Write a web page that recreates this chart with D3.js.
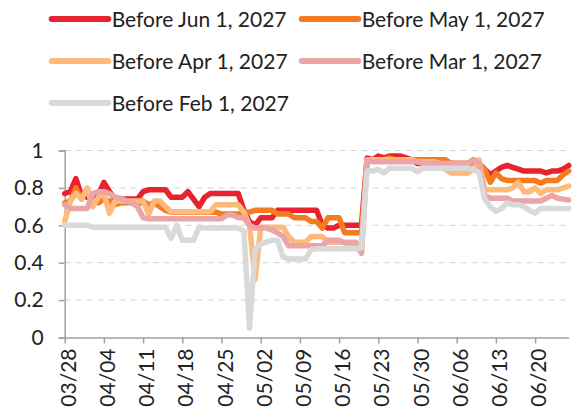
<!DOCTYPE html>
<html>
<head>
<meta charset="utf-8">
<script src="https://cdn.jsdelivr.net/npm/d3@7"></script>
<style>
  body { margin: 0; background: #fff; }
  svg { display: block; }
  text { font-family: Lato, sans-serif; fill: #222; }
</style>
</head>
<body>
<script>
'use strict';

var seriesNames = ['Before Jun 1, 2027', 'Before May 1, 2027', 'Before Apr 1, 2027', 'Before Mar 1, 2027', 'Before Feb 1, 2027'];
var seriesColors = ['#e8222f', '#f47b20', '#fdba7b', '#eca5a6', '#d9d9d9'];

var firstDay = new Date(2027, 2, 28);
var lastDay = new Date(2027, 5, 26);

var beforeJun = [
  0.77, 0.78, 0.85, 0.76, 0.75, 0.75, 0.76,
  0.83, 0.78, 0.74, 0.74, 0.74, 0.74, 0.74,
  0.78, 0.79, 0.79, 0.79, 0.79, 0.75, 0.75,
  0.75, 0.78, 0.74, 0.70, 0.75, 0.77, 0.77,
  0.77, 0.77, 0.77, 0.77, 0.68, 0.62, 0.60,
  0.64, 0.64, 0.64, 0.68, 0.68, 0.68, 0.68,
  0.68, 0.68, 0.68, 0.68, 0.60, 0.585, 0.585,
  0.60, 0.60, 0.60, 0.60, 0.60, 0.96, 0.95,
  0.97, 0.96, 0.97, 0.97, 0.97, 0.96, 0.95,
  0.93, 0.93, 0.93, 0.94, 0.93, 0.93, 0.93,
  0.93, 0.93, 0.93, 0.95, 0.93, 0.90, 0.87,
  0.89, 0.91, 0.92, 0.91, 0.90, 0.89, 0.89,
  0.89, 0.89, 0.88, 0.89, 0.89, 0.90, 0.92
];
var beforeMay = [
  0.72, 0.73, 0.80, 0.74, 0.79, 0.73, 0.72,
  0.74, 0.73, 0.71, 0.72, 0.72, 0.72, 0.71,
  0.73, 0.71, 0.72, 0.70, 0.68, 0.67, 0.67,
  0.67, 0.67, 0.67, 0.67, 0.67, 0.67, 0.67,
  0.66, 0.66, 0.66, 0.66, 0.67, 0.67, 0.68,
  0.68, 0.68, 0.68, 0.66, 0.66, 0.66, 0.64,
  0.64, 0.64, 0.62, 0.62, 0.585, 0.64, 0.64,
  0.64, 0.56, 0.56, 0.56, 0.56, 0.94, 0.95,
  0.95, 0.95, 0.96, 0.95, 0.95, 0.95, 0.95,
  0.95, 0.95, 0.95, 0.95, 0.95, 0.95, 0.93,
  0.93, 0.93, 0.93, 0.93, 0.93, 0.90, 0.83,
  0.88, 0.85, 0.84, 0.84, 0.84, 0.84, 0.84,
  0.84, 0.825, 0.84, 0.84, 0.84, 0.87, 0.89
];
var beforeApr = [
  0.62, 0.73, 0.77, 0.74, 0.80, 0.70, 0.75,
  0.77, 0.665, 0.73, 0.73, 0.73, 0.73, 0.73,
  0.73, 0.66, 0.73, 0.73, 0.70, 0.673, 0.673,
  0.673, 0.673, 0.673, 0.673, 0.673, 0.673, 0.71,
  0.71, 0.71, 0.71, 0.71, 0.67, 0.60, 0.31,
  0.59, 0.59, 0.59, 0.59, 0.59, 0.54, 0.51,
  0.51, 0.51, 0.54, 0.54, 0.54, 0.51, 0.51,
  0.51, 0.51, 0.51, 0.51, 0.47, 0.95, 0.95,
  0.95, 0.95, 0.95, 0.95, 0.95, 0.95, 0.95,
  0.94, 0.94, 0.94, 0.94, 0.93, 0.90, 0.88,
  0.88, 0.88, 0.88, 0.90, 0.95, 0.79, 0.79,
  0.79, 0.79, 0.79, 0.80, 0.83, 0.78, 0.78,
  0.80, 0.77, 0.79, 0.79, 0.79, 0.80, 0.81
];
var beforeMar = [
  0.71, 0.69, 0.69, 0.69, 0.69, 0.77, 0.78,
  0.78, 0.77, 0.75, 0.745, 0.73, 0.72, 0.70,
  0.64, 0.635, 0.635, 0.635, 0.635, 0.635, 0.635,
  0.635, 0.635, 0.635, 0.635, 0.635, 0.635, 0.635,
  0.635, 0.655, 0.655, 0.64, 0.64, 0.60, 0.585,
  0.585, 0.585, 0.575, 0.56, 0.54, 0.49, 0.49,
  0.49, 0.49, 0.49, 0.49, 0.49, 0.52, 0.52,
  0.52, 0.505, 0.505, 0.505, 0.45, 0.95, 0.94,
  0.94, 0.94, 0.94, 0.94, 0.94, 0.94, 0.94,
  0.94, 0.93, 0.93, 0.93, 0.93, 0.93, 0.93,
  0.93, 0.93, 0.93, 0.95, 0.93, 0.76, 0.745,
  0.745, 0.745, 0.745, 0.73, 0.73, 0.73, 0.73,
  0.73, 0.73, 0.745, 0.76, 0.745, 0.74, 0.735
];
var beforeFeb = [
  0.60, 0.60, 0.60, 0.60, 0.60, 0.59, 0.59,
  0.59, 0.59, 0.59, 0.59, 0.59, 0.59, 0.59,
  0.59, 0.59, 0.59, 0.59, 0.59, 0.53, 0.60,
  0.52, 0.52, 0.52, 0.59, 0.585, 0.585, 0.585,
  0.585, 0.585, 0.585, 0.585, 0.57, 0.05, 0.47,
  0.50, 0.51, 0.52, 0.52, 0.43, 0.42, 0.42,
  0.42, 0.42, 0.47, 0.475, 0.475, 0.475, 0.475,
  0.475, 0.475, 0.475, 0.475, 0.48, 0.89, 0.89,
  0.90, 0.88, 0.905, 0.905, 0.905, 0.905, 0.905,
  0.885, 0.905, 0.905, 0.905, 0.905, 0.905, 0.905,
  0.905, 0.905, 0.905, 0.90, 0.88, 0.74, 0.70,
  0.675, 0.69, 0.72, 0.71, 0.71, 0.70, 0.68,
  0.665, 0.69, 0.69, 0.69, 0.69, 0.69, 0.69
];

var yTicks = [0, 0.2, 0.4, 0.6, 0.8, 1];
var xTickLabels = ['03/28', '04/04', '04/11', '04/18', '04/25', '05/02', '05/09', '05/16', '05/23', '05/30', '06/06', '06/13', '06/20'];

var width = 576;
var height = 416;
var plotLeft = 64.7, plotRight = 568.7, plotTop = 150.5, plotBottom = 337.5;
var fontSize = '21px';

var days = d3.timeDay.range(firstDay, d3.timeDay.offset(lastDay, 1));
var allValues = [beforeJun, beforeMay, beforeApr, beforeMar, beforeFeb];

var x = d3.scaleTime().domain([firstDay, lastDay]).range([plotLeft, plotRight]);
var y = d3.scaleLinear().domain([0, 1]).range([plotBottom, plotTop]);

var svg = d3.select('body').append('svg')
  .attr('width', width)
  .attr('height', height);

// dashed grid
svg.append('g')
  .selectAll('line')
  .data(yTicks.filter(function(t) { return t > 0; }))
  .enter().append('line')
  .attr('x1', plotLeft)
  .attr('x2', plotRight - 3)
  .attr('y1', function(d) { return y(d); })
  .attr('y2', function(d) { return y(d); })
  .style('stroke', '#d4d4d4')
  .style('stroke-width', 1)
  .style('stroke-dasharray', '6,5');

var parseTick = d3.timeParse('%Y/%m/%d');
var xTickDates = xTickLabels.map(function(s) { return parseTick('2027/' + s); });

var xAxis = svg.append('g')
  .attr('transform', 'translate(0,' + plotBottom + ')')
  .call(d3.axisBottom(x).tickValues(xTickDates).tickSize(6).tickSizeOuter(0)
    .tickFormat(function(d, i) { return xTickLabels[i]; }));

xAxis.selectAll('text')
  .attr('transform', 'rotate(-90)')
  .attr('x', -11)
  .attr('y', 0)
  .attr('dy', '0.5em')
  .style('text-anchor', 'end')
  .style('font-size', fontSize);

var yAxis = svg.append('g')
  .attr('transform', 'translate(' + plotLeft + ',0)')
  .call(d3.axisLeft(y).tickValues(yTicks).tickSize(6).tickPadding(15)
    .tickFormat(function(d) { return d === 0 || d === 1 ? String(d) : d.toFixed(1); }));

yAxis.selectAll('text').style('font-size', fontSize);

svg.selectAll('.domain, .tick line')
  .style('stroke', '#a0a0a0')
  .style('stroke-width', 1.5);
svg.selectAll('.tick text').style('fill', '#222').style('font-family', 'Lato, sans-serif');

var line = d3.line()
  .x(function(d, i) { return x(days[i]); })
  .y(function(d) { return y(d); });

svg.append('g')
  .selectAll('path')
  .data(allValues)
  .enter().append('path')
  .attr('d', line)
  .style('fill', 'none')
  .style('stroke', function(d, i) { return seriesColors[i]; })
  .style('stroke-width', 5.5)
  .style('stroke-linejoin', 'round')
  .style('stroke-linecap', 'round');

// legend, two columns
var legend = svg.append('g')
  .selectAll('g')
  .data(seriesNames)
  .enter().append('g')
  .attr('transform', function(d, i) {
    return 'translate(' + (i % 2 === 0 ? 51.7 : 301.7) + ',' + (19 + 42 * Math.floor(i / 2)) + ')';
  });

legend.append('line')
  .attr('x1', 0)
  .attr('x2', 56.6)
  .style('stroke', function(d, i) { return seriesColors[i]; })
  .style('stroke-width', 6)
  .style('stroke-linecap', 'round');

legend.append('text')
  .attr('x', 60)
  .attr('dy', '0.36em')
  .style('font-size', fontSize)
  .text(function(d) { return d; });
</script>
</body>
</html>
